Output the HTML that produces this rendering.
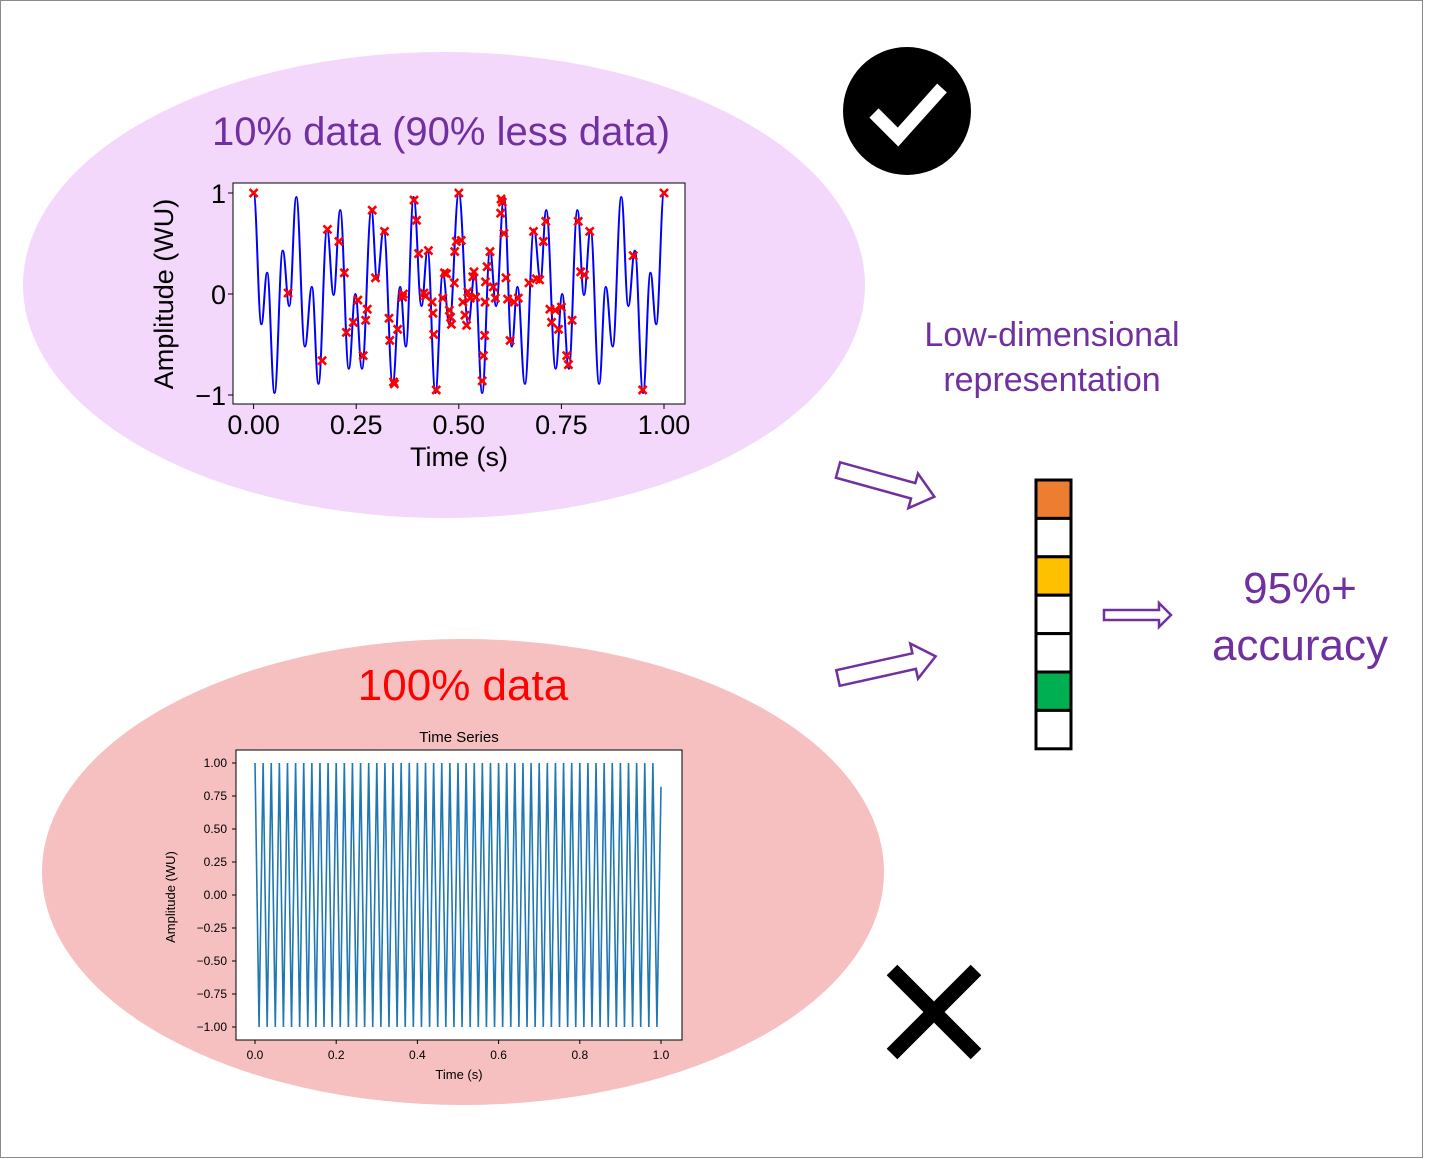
<!DOCTYPE html>
<html><head><meta charset="utf-8"><style>
html,body{margin:0;padding:0;background:#fff;}
svg{display:block;font-family:"Liberation Sans",sans-serif;}
</style></head><body>
<svg id="s" width="1456" height="1159" viewBox="0 0 1456 1159" xmlns="http://www.w3.org/2000/svg">
<rect x="0.5" y="0.5" width="1422" height="1157" fill="#fff" stroke="#8a8a8a" stroke-width="1"/>
<ellipse cx="444" cy="285" rx="421" ry="233" fill="#f3d8fb"/>
<ellipse cx="463" cy="872" rx="421" ry="233" fill="#f6c0c0"/>
<text x="441" y="145" font-size="40" fill="#7030a0" text-anchor="middle">10% data (90% less data)</text>
<text x="463" y="700" font-size="44" fill="#ff0000" text-anchor="middle">100% data</text>
<text x="1052" y="346" font-size="34" fill="#7030a0" text-anchor="middle">Low-dimensional</text>
<text x="1052" y="391" font-size="34" fill="#7030a0" text-anchor="middle">representation</text>
<text x="1300" y="603" font-size="44" fill="#7030a0" text-anchor="middle">95%+</text>
<text x="1300" y="660" font-size="44" fill="#7030a0" text-anchor="middle">accuracy</text>
<g>
<circle cx="907" cy="111" r="64" fill="#000"/>
<path d="M874 113 L898 137 L942 88" fill="none" stroke="#fff" stroke-width="13"/>
</g>
<g>
<path d="M892 970 L976 1054 M976 970 L892 1054" stroke="#000" stroke-width="15"/>
</g>
<g id="arrows"></g>
<g id="vec"></g>
<g id="top"></g>
<g id="bot"></g>
</svg>
<script>
// ---- top chart data ----
const extremaT=[0,.019,.033,.051,.071,.087,.104,.125,.142,.158,.179,.195,.211,.232,.248,.264,.287,.301,.317,.339,.357,.371,.390,.409,.424,.443,.461,.477,.5,.523,.539,.557,.576,.591,.610,.629,.643,.661,.683,.699,.713,.736,.752,.768,.789,.805,.821,.842,.858,.875,.896,.913,.929,.949,.967,.981,1];
const extremaV=[1,-.30,.21,-.98,.43,-.12,.96,-.52,.07,-.89,.64,-.01,.83,-.74,0,-.74,.83,.14,.64,-.89,.07,-.52,.96,-.12,.43,-.98,.21,-.30,1,-.30,.21,-.98,.43,-.12,.96,-.52,.07,-.89,.64,.14,.83,-.74,0,-.74,.83,-.01,.64,-.89,.07,-.52,.96,-.12,.43,-.98,.21,-.30,1];
const sampleT=[0,.084,.167,.180,.208,.221,.226,.243,.254,.267,.273,.277,.289,.297,.319,.330,.332,.341,.343,.351,.363,.365,.391,.397,.402,.415,.419,.426,.435,.437,.439,.445,.461,.465,.470,.477,.480,.482,.489,.490,.494,.5,.506,.510,.515,.519,.522,.528,.534,.537,.541,.557,.560,.563,.564,.565,.569,.576,.584,.589,.602,.603,.606,.610,.615,.619,.625,.635,.645,.671,.682,.689,.697,.706,.712,.722,.726,.735,.743,.750,.763,.767,.776,.791,.797,.806,.819,.925,.948,1];
const sampleV=[1,.01,-.66,.64,.52,.21,-.38,-.28,-.06,-.61,-.26,-.15,.83,.16,.62,-.24,-.46,-.87,-.89,-.35,-.03,0,.93,.73,.40,.01,-.02,.43,-.08,-.19,-.40,-.95,-.04,.21,.20,-.16,-.23,-.30,.11,.42,.52,1,.53,-.08,-.21,-.31,.02,-.04,.17,.22,-.03,-.86,-.61,-.41,-.08,.12,.27,.42,.07,-.04,.80,.94,.91,.60,.16,-.05,-.46,-.08,-.04,.11,.62,.15,.14,.52,.72,-.15,-.28,-.16,-.35,-.13,-.61,-.70,-.26,.72,.22,.19,.62,.38,-.95,1];
const topXTicks=[0,0.25,0.5,0.75,1];
const topXLabels=["0.00","0.25","0.50","0.75","1.00"];
const topYTicks=[-1,0,1];
const topYLabels=["\u22121","0","1"];
// ---- bottom chart data ----
const botV=[1,-1,1,-1,1,-1,1,-1,1,-1,1,-1,1,-1,1,-1,1,-1,1,-1,1,-1,1,-1,1,-1,1,-1,1,-1,1,-1,1,-1,1,-1,1,-1,1,-1,1,-1,1,-1,1,-1,1,-1,1,-1,1,-1,1,-1,1,-1,1,-1,1,-1,1,-1,1,-1,1,-1,1,-1,1,-1,1,-1,1,-1,1,-1,1,-1,1,-1,1,-1,1,-1,1,-1,1,-1,1,-1,1,-1,1,-1,1,-1,1,-1,1,-1,0.82];
const botXTicks=[0,0.2,0.4,0.6,0.8,1.0];
const botXLabels=["0.0","0.2","0.4","0.6","0.8","1.0"];
const botYTicks=[1,0.75,0.5,0.25,0,-0.25,-0.5,-0.75,-1];
const botYLabels=["1.00","0.75","0.50","0.25","0.00","\u22120.25","\u22120.50","\u22120.75","\u22121.00"];
// ---- vector data ----
const vecColors=["#ed7d31","#ffffff","#ffc000","#ffffff","#ffffff","#00b050","#ffffff"];

const NS="http://www.w3.org/2000/svg";
function mk(parent,tag,attrs,txt){const e=document.createElementNS(NS,tag);for(const k in attrs)e.setAttribute(k,attrs[k]);if(txt!==undefined)e.textContent=txt;parent.appendChild(e);return e;}

// top chart
(function(){
const g=document.getElementById('top');
const sx=t=>253.6+t*(664-253.6), sy=v=>294-v*101;
mk(g,'rect',{x:233,y:183,width:452,height:221,fill:'#fff',stroke:'#000','stroke-width':1});
let d='M'+sx(extremaT[0])+' '+sy(extremaV[0]);
for(let i=1;i<extremaT.length;i++){const x0=sx(extremaT[i-1]),x1=sx(extremaT[i]),dx=x1-x0;d+=' C'+(x0+dx*0.4)+' '+sy(extremaV[i-1])+' '+(x1-dx*0.4)+' '+sy(extremaV[i])+' '+x1+' '+sy(extremaV[i]);}
const line=mk(g,'path',{d:d,fill:'none',stroke:'#0000ff','stroke-width':2});


for(let i=0;i<sampleT.length;i++){const x=sx(sampleT[i]),y=sy(sampleV[i]);
const m=mk(g,'path',{d:`M${x-4} ${y-4}L${x+4} ${y+4}M${x+4} ${y-4}L${x-4} ${y+4}`,stroke:'#ff0000','stroke-width':2.6});

}
topXTicks.forEach((t,i)=>{const x=sx(t);mk(g,'line',{x1:x,x2:x,y1:404,y2:409,stroke:'#000'});
const tl=mk(g,'text',{x:x,y:434,'font-size':27,'text-anchor':'middle'},topXLabels[i]);

});
topYTicks.forEach((v,i)=>{const y=sy(v);mk(g,'line',{x1:228,x2:233,y1:y,y2:y,stroke:'#000'});
const tl=mk(g,'text',{x:226,y:y+10,'font-size':27,'text-anchor':'end'},topYLabels[i]);

});
const xt=mk(g,'text',{x:459,y:466,'font-size':27,'text-anchor':'middle'},'Time (s)');


const yt=mk(g,'text',{x:0,y:0,'font-size':27,'text-anchor':'middle',transform:'translate(173,294) rotate(-90)'},'Amplitude (WU)');


})();

// bottom chart
(function(){
const g=document.getElementById('bot');
const sx=t=>255+t*(661-255), sy=v=>895-v*132;
mk(g,'rect',{x:236,y:750,width:446,height:290,fill:'#fff',stroke:'#000','stroke-width':1});
let d='';
botV.forEach((v,i)=>{const t=i/(botV.length-1);d+=(i?'L':'M')+sx(t)+' '+sy(v);});
const line=mk(g,'path',{d:d,fill:'none',stroke:'#1f77b4','stroke-width':1.6});


botXTicks.forEach((t,i)=>{const x=sx(t);mk(g,'line',{x1:x,x2:x,y1:1040,y2:1044,stroke:'#000'});
const tl=mk(g,'text',{x:x,y:1059,'font-size':12,'text-anchor':'middle'},botXLabels[i]);

});
botYTicks.forEach((v,i)=>{const y=sy(v);mk(g,'line',{x1:232,x2:236,y1:y,y2:y,stroke:'#000'});
const tl=mk(g,'text',{x:227,y:y+4,'font-size':12,'text-anchor':'end'},botYLabels[i]);

});
const ti=mk(g,'text',{x:459,y:742,'font-size':15,'text-anchor':'middle'},'Time Series');


const xt=mk(g,'text',{x:459,y:1079,'font-size':13,'text-anchor':'middle'},'Time (s)');


const yt=mk(g,'text',{x:0,y:0,'font-size':13,'text-anchor':'middle',transform:'translate(175,897) rotate(-90)'},'Amplitude (WU)');


})();

// vector
(function(){
const g=document.getElementById('vec');
const h=38.4;
vecColors.forEach((c,i)=>{const r=mk(g,'rect',{x:1036,y:480+i*h,width:35,height:h,fill:c,stroke:'#000','stroke-width':3});

});
})();

// arrows
(function(){
const g=document.getElementById('arrows');
function arrow(x,y,ang,L,w,hw,hl,name){
const pts=[[0,-w],[L-hl,-w],[L-hl,-hw],[L,0],[L-hl,hw],[L-hl,w],[0,w]].map(p=>p.join(',')).join(' ');
const a=mk(g,'polygon',{points:pts,fill:'#fff',stroke:'#7030a0','stroke-width':2.5,transform:`translate(${x},${y}) rotate(${ang})`});

}
arrow(838,470,15.5,100,8,18,22,'arrow-from-sparse');
arrow(838,678,-12.5,100,8,18,22,'arrow-from-full');
arrow(1104,615,0,67,5,12,12,'arrow-to-accuracy');
})();
</script>
</body></html>
